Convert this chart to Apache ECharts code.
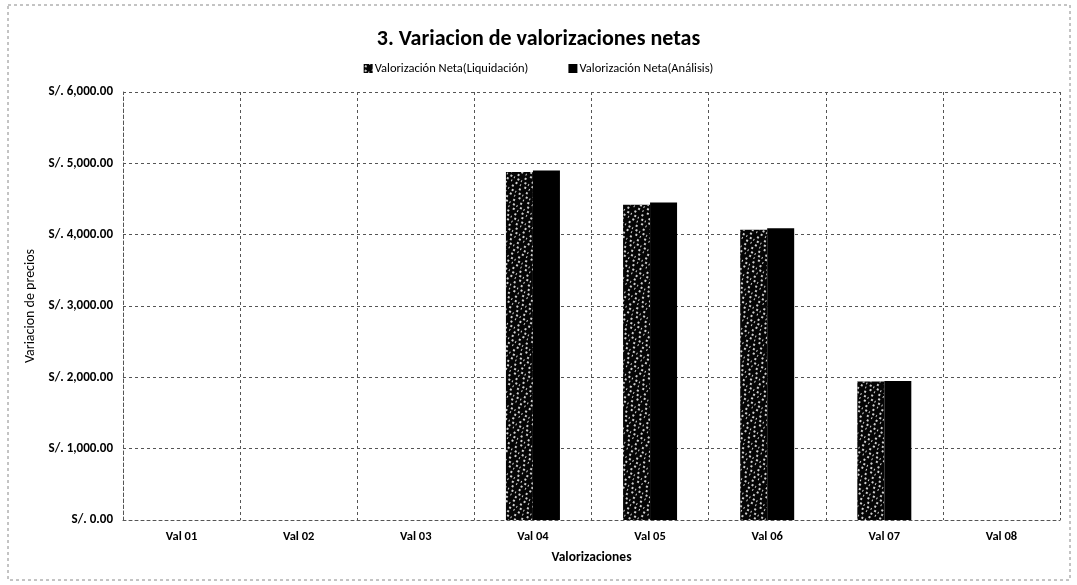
<!DOCTYPE html>
<html>
<head>
<meta charset="utf-8">
<script src="https://cdn.jsdelivr.net/npm/echarts@6/dist/echarts.min.js"></script>
<style>
  html, body { margin: 0; padding: 0; background: #fff; }
  #chart { width: 1077px; height: 585px; }
</style>
</head>
<body>
<div id="chart"></div>
<script>
// Valuation periods and net valuation amounts (S/.)
const categories = ['Val 01', 'Val 02', 'Val 03', 'Val 04', 'Val 05', 'Val 06', 'Val 07', 'Val 08'];
const liquidacion = [0, 0, 0, 4880, 4420, 4070, 1940, 0];
const analisis = [0, 0, 0, 4900, 4450, 4090, 1950, 0];
const seriesNames = ['Valorización Neta(Liquidación)', 'Valorización Neta(Análisis)'];
const yTicks = { min: 0, max: 6000, interval: 1000 };

const FONT = 'Carlito, Lato, "Liberation Sans", sans-serif';

function money(v) {
  if (v === 0) return 'S/. 0.00';
  return 'S/. ' + v.toLocaleString('en-US', { minimumFractionDigits: 2, maximumFractionDigits: 2 });
}

const chart = echarts.init(document.getElementById('chart'), null, { renderer: 'canvas' });

const dashed = { color: '#555', width: 1, type: [3, 3] };

chart.setOption({
  backgroundColor: '#fff',
  animation: false,
  aria: { enabled: true, decal: { show: false } },
  title: {
    text: '3. Variacion de valorizaciones netas',
    left: 'center',
    top: 23,
    textStyle: { fontFamily: FONT, fontSize: 22, fontWeight: 'bold', color: '#000' }
  },
  legend: {
    data: seriesNames,
    top: 57,
    left: 'center',
    itemWidth: 9,
    itemHeight: 9,
    itemGap: 40,
    icon: 'rect',
    textStyle: { fontFamily: FONT, fontSize: 12.5, color: '#000', padding: [0, 0, 0, -3] }
  },
  grid: { left: 123, right: 17, top: 92, bottom: 65, containLabel: false },
  xAxis: {
    type: 'category',
    data: categories,
    name: 'Valorizaciones',
    nameLocation: 'middle',
    nameGap: 31,
    nameTextStyle: { fontFamily: FONT, fontSize: 13.5, fontWeight: 'bold', color: '#000' },
    axisLine: { show: true, lineStyle: dashed },
    axisTick: { show: false },
    axisLabel: { fontFamily: FONT, fontSize: 12.5, fontWeight: 'bold', color: '#000', margin: 10 },
    splitLine: { show: true, lineStyle: dashed }
  },
  yAxis: {
    type: 'value',
    min: yTicks.min,
    max: yTicks.max,
    interval: yTicks.interval,
    name: 'Variacion de precios',
    nameLocation: 'middle',
    nameGap: 86,
    nameTextStyle: { fontFamily: FONT, fontSize: 14, color: '#000' },
    axisLine: { show: true, lineStyle: dashed },
    axisTick: { show: false },
    axisLabel: { fontFamily: FONT, fontSize: 13, fontWeight: 'bold', color: '#000', margin: 10, formatter: money },
    splitLine: { show: true, lineStyle: dashed }
  },
  series: [
    {
      name: seriesNames[0],
      type: 'bar',
      data: liquidacion,
      barWidth: 27,
      barGap: '0%',
      itemStyle: {
        color: '#050505',
        decal: {
          symbol: 'rect',
          symbolSize: 0.9,
          color: 'rgba(255,255,255,0.9)',
          dashArrayX: [[2, 3, 1, 4], [0, 2, 2, 4], [1, 3, 2, 2]],
          dashArrayY: [2, 2],
          rotation: 0.5
        }
      }
    },
    {
      name: seriesNames[1],
      type: 'bar',
      data: analisis,
      barWidth: 27,
      barGap: '0%',
      itemStyle: { color: '#000' }
    }
  ],
  graphic: [
    {
      type: 'rect',
      shape: { x: 8, y: 5, width: 1062, height: 575 },
      style: { fill: 'none', stroke: '#888', lineWidth: 1, lineDash: [3, 3] },
      silent: true
    }
  ]
});
</script>
</body>
</html>
